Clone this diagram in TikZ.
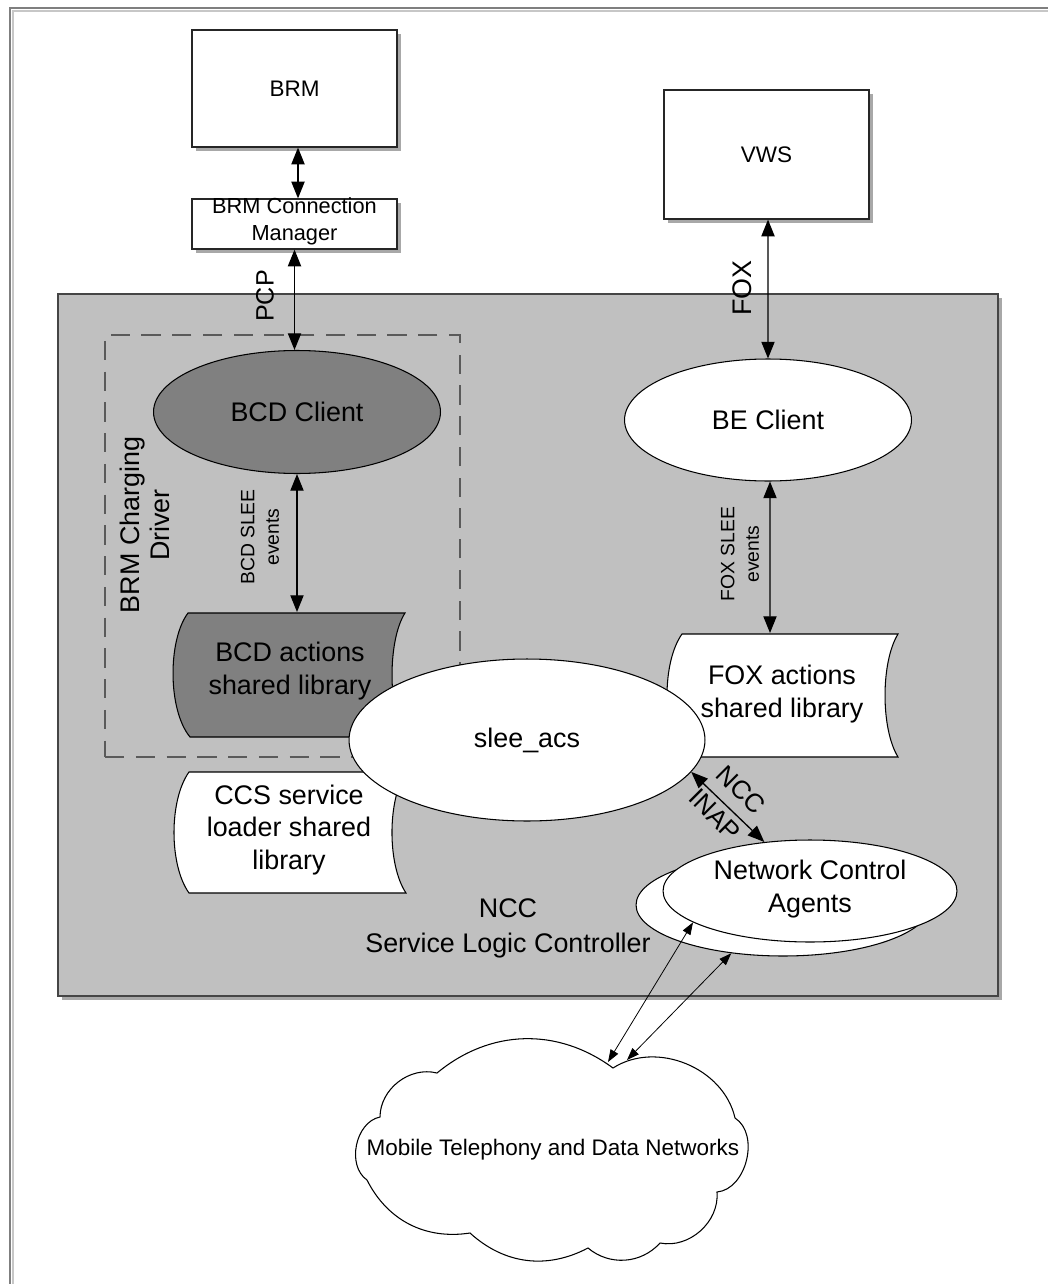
\documentclass[tikz,border=0pt]{standalone}
\usepackage{fontspec}
\setmainfont{Liberation Sans}
\usetikzlibrary{arrows.meta,shapes.geometric,shadows,calc}
\definecolor{boxgray}{HTML}{C0C0C0}
\definecolor{darkfill}{HTML}{808080}
\definecolor{shadowgray}{HTML}{A8A8A8}
\definecolor{framegray}{HTML}{7F7F7F}
\definecolor{edgegray}{HTML}{454545}
\definecolor{dashgray}{HTML}{5A5A5A}
\begin{document}
\begin{tikzpicture}[x=0.02cm,y=-0.02cm,
  sh/.style={drop shadow={shadow xshift=0.08cm,shadow yshift=-0.08cm,fill=shadowgray,opacity=1}},
  box/.style={rectangle,draw=black!85,line width=0.7pt,fill=white,inner sep=0pt,sh},
  ell/.style={ellipse,draw=black,line width=0.6pt,inner sep=0pt},
  lib/.style={draw=black,line width=0.6pt},
  arr/.style={line width=0.75pt,{Triangle[length=9.5pt,width=7.5pt]}-{Triangle[length=9.5pt,width=7.5pt]}},
  thinarr/.style={line width=0.45pt,{Triangle[length=7pt,width=5pt]}-{Triangle[length=7pt,width=5pt]}},
  big/.style={font=\fontsize{15.3}{18.7}\selectfont,align=center,inner sep=0pt},
  small/.style={font=\fontsize{12.8}{15}\selectfont,align=center,inner sep=0pt},
  tiny/.style={font=\fontsize{11}{14}\selectfont,align=center,inner sep=0pt},
]
\useasboundingbox (0,0) rectangle (1048,1284);
\fill[white] (0,0) rectangle (1048,1284);
% outer frame (cropped)
\draw[black!22,line width=1pt] (13,1284) -- (13,11) -- (1048,11);
\draw[framegray,line width=1.6pt] (10,1284) -- (10,8) -- (1048,8);

% NCC container
\node[rectangle,draw=edgegray,line width=0.9pt,fill=boxgray,sh,
      minimum width=18.8cm,minimum height=14.04cm,inner sep=0pt] (ncc) at (528,645) {};
\node[rectangle,draw=dashgray,line width=1.1pt,dash pattern=on 11pt off 6.5pt,
      minimum width=7.1cm,minimum height=8.44cm,inner sep=0pt] (drv) at (282.5,546) {};

% top boxes
\node[box,minimum width=4.1cm,minimum height=2.34cm,small] (brm) at (294.5,88.5) {BRM};
\node[box,minimum width=4.1cm,minimum height=1.0cm] (cm) at (294.5,224) {};
\node[font=\fontsize{12.4}{15.3}\selectfont,align=center,inner sep=0pt] (cmtext) at (294.5,221) {BRM Connection\\Manager};
\node[box,minimum width=4.1cm,minimum height=2.58cm,small] (vws) at (766.5,154.5) {VWS};

% BCD client
\node[ell,fill=darkfill,minimum width=5.74cm,minimum height=2.46cm,big] (bcd) at (297,412) {BCD Client};
% BCD actions shared library
\draw[lib,fill=darkfill] (188,613) -- (405,613) .. controls (387.7,640) and (387.7,710) .. (405,737)
  -- (190,737) .. controls (167.7,710) and (167.7,640) .. (188,613) -- cycle;
% CCS service loader shared library
\draw[lib,fill=white] (189,772) -- (406,772) .. controls (387.3,800) and (387.3,865) .. (406,893)
  -- (189,893) .. controls (169,865) and (169,800) .. (189,772) -- cycle;
% FOX actions shared library
\draw[lib,fill=white] (682,634) -- (898,634) .. controls (880.7,662) and (880.7,729) .. (898,757)
  -- (682,757) .. controls (662,729) and (662,662) .. (682,634) -- cycle;
\coordinate (bcdtop) at (297,612);
\coordinate (foxtop) at (770,633);

% BE client
\node[ell,fill=white,minimum width=5.74cm,minimum height=2.44cm,big] (be) at (768,420) {BE Client};
% slee_acs
\node[ell,fill=white,minimum width=7.12cm,minimum height=3.24cm,big] (slee) at (527,740) {slee\_acs};
% Network Control Agents (stacked)
\node[ell,fill=white,minimum width=5.88cm,minimum height=2.04cm] (ncb) at (783,905) {};
\node[ell,fill=white,minimum width=5.88cm,minimum height=2.04cm] (nca) at (810,891) {};
\node[big] (ncatext) at (810,889) {Network Control\\Agents};

% library texts
\node[big] (bcdlib) at (290,671) {BCD actions\\shared library};
\node[big] (ccs) at (289,830) {CCS service\\loader shared\\library};
\node[big] (foxlib) at (782,694) {FOX actions\\shared library};

% cloud
\draw[line width=0.6pt,fill=white] (367,1180) to[bend left=67] (380,1117) to[bend left=52] (437,1073)
  to[bend left=38] (613,1068) to[bend left=55] (735,1118) to[bend left=71] (717,1192)
  to[bend left=53] (660,1243) to[bend left=44] (588,1248) to[bend left=35] (470,1233)
  to[bend left=36] (367,1180) -- cycle;
\node[small] (cloud) at (553,1150) {Mobile Telephony and Data Networks};
\coordinate (c1) at (608,1062);
\coordinate (c2) at (627,1060);

% connectors
\draw[arr] ([xshift=0.07cm]brm.south) -- ([xshift=0.07cm]cm.north);
\draw[arr] (cm.south) -- (cm.south |- bcd.north);
\draw[arr] (bcd.south) -- (bcdtop);
\draw[arr] ([xshift=0.03cm]vws.south) -- (be.north);
\draw[arr] ([xshift=0.04cm]be.south) -- (foxtop);
\draw[arr] (slee.-11) -- (nca.133);
\draw[thinarr] (c1) -- (nca.195);
\draw[thinarr] (c2) -- (ncb.223);

% labels
\node[font=\fontsize{14.3}{17}\selectfont,rotate=90,inner sep=0pt] (pcp) at (265,296) {PCP};
\node[font=\fontsize{15.3}{17}\selectfont,rotate=90,inner sep=0pt] (foxlbl) at (742,288) {FOX};
\node[font=\fontsize{15.3}{17.5}\selectfont,rotate=90,align=center,inner sep=0pt] (drvlbl) at (145,525) {BRM Charging\\Driver};
\node[tiny,rotate=90] (bcdev) at (260,537) {BCD SLEE\\events};
\node[tiny,rotate=90] (foxev) at (740,554) {FOX SLEE\\events};
\node[font=\fontsize{14.8}{17}\selectfont,rotate=-45,inner sep=0pt] (nccl) at (741,790) {NCC};
\node[font=\fontsize{14.8}{17}\selectfont,rotate=-45,inner sep=0pt] (inapl) at (715,815) {INAP};
\node[font=\fontsize{15.3}{19.8}\selectfont,align=center,inner sep=0pt] (slc) at (508,928) {NCC\\Service Logic Controller};
\end{tikzpicture}
\end{document}
